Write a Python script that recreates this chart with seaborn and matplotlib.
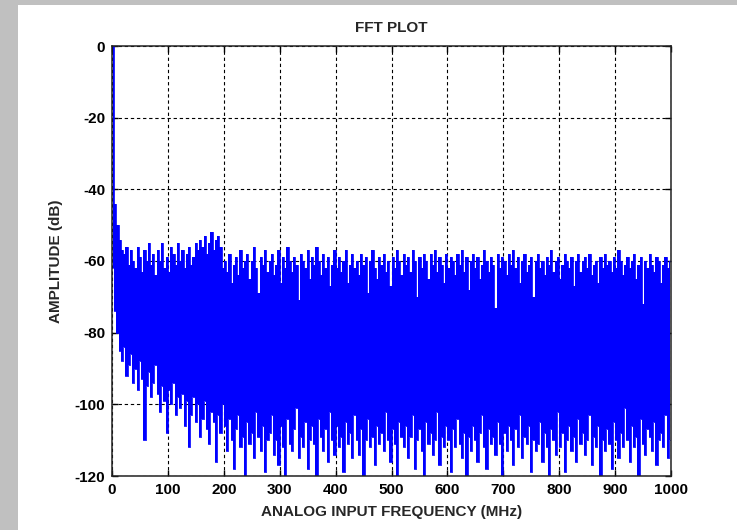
import numpy as np
import pandas as pd
import matplotlib
matplotlib.use("Agg")
import matplotlib.pyplot as plt
from matplotlib.patches import Rectangle
import seaborn as sns

# Spectrum summarised as per-bin peak (max) and floor (min) amplitude, 4 MHz bins
freq_mhz = np.arange(250) * 4 + 2

peak_db = [
    0, -44, -50, -54, -57, -58, -56, -61, -57, -60,
    -62, -56, -59, -63, -57, -60, -55, -61, -58, -64,
    -57, -60, -55, -62, -59, -63, -56, -58, -61, -55,
    -60, -57, -62, -58, -56, -61, -59, -55, -57, -54,
    -56, -53, -58, -55, -52, -57, -54, -53, -56, -62,
    -60, -63, -58, -66, -61, -59, -64, -57, -62, -60,
    -58, -65, -60, -56, -62, -69, -59, -61, -57, -63,
    -60, -58, -64, -61, -57, -66, -59, -62, -56, -60,
    -63, -59, -61, -71, -58, -60, -62, -57, -65, -59,
    -61, -56, -60, -64, -58, -62, -59, -67, -61, -57,
    -62, -59, -63, -60, -57, -66, -61, -58, -62, -60,
    -64, -58, -61, -59, -69, -60, -57, -62, -65, -59,
    -61, -58, -63, -60, -67, -59, -62, -57, -60, -64,
    -58, -61, -59, -63, -57, -60, -70, -59, -62, -58,
    -60, -65, -58, -61, -57, -63, -59, -61, -66, -58,
    -62, -59, -60, -64, -58, -61, -57, -63, -59, -68,
    -60, -58, -62, -59, -65, -61, -57, -60, -63, -59,
    -61, -73, -58, -62, -59, -60, -64, -58, -61, -57,
    -62, -59, -66, -60, -58, -63, -61, -59, -70, -60,
    -58, -62, -60, -64, -59, -61, -57, -63, -60, -59,
    -65, -61, -58, -60, -62, -59, -67, -60, -58, -63,
    -60, -59, -62, -58, -64, -61, -60, -66, -59, -62,
    -58, -61, -60, -63, -59, -62, -57, -60, -64, -61,
    -59, -62, -60, -58, -65, -61, -59, -72, -60, -62,
    -58, -61, -63, -59, -60, -66, -61, -59, -62, -60,
]

floor_db = [
    -62, -74, -80, -85, -88, -84, -92, -89, -86, -94,
    -90, -96, -88, -93, -110, -95, -91, -98, -94, -89,
    -97, -102, -95, -99, -108, -96, -100, -94, -103, -98,
    -101, -97, -106, -99, -112, -103, -98, -105, -100, -109,
    -104, -99, -107, -111, -102, -105, -116, -103, -108, -100,
    -106, -113, -104, -110, -118, -107, -103, -112, -109, -120,
    -105, -111, -108, -115, -102, -109, -113, -106, -119, -110,
    -108, -103, -114, -110, -117, -106, -112, -120, -104, -111,
    -113, -107, -101, -115, -109, -112, -105, -118, -110, -106,
    -111, -120, -104, -109, -113, -107, -116, -102, -110, -114,
    -106, -112, -109, -119, -105, -111, -108, -115, -103, -110,
    -114, -107, -120, -110, -104, -112, -109, -117, -106, -111,
    -108, -113, -102, -110, -116, -107, -111, -120, -105, -109,
    -112, -106, -115, -109, -103, -118, -110, -107, -113, -120,
    -105, -111, -108, -114, -110, -102, -117, -109, -112, -106,
    -110, -119, -107, -112, -104, -111, -115, -108, -120, -109,
    -113, -106, -110, -116, -108, -103, -112, -118, -107, -111,
    -109, -114, -105, -111, -120, -108, -113, -106, -110, -117,
    -107, -112, -103, -115, -109, -111, -106, -119, -110, -113,
    -111, -105, -116, -108, -112, -120, -107, -110, -114, -102,
    -112, -108, -119, -110, -106, -113, -109, -116, -104, -111,
    -108, -114, -110, -103, -117, -109, -112, -106, -120, -110,
    -113, -107, -111, -118, -105, -110, -115, -108, -112, -101,
    -110, -116, -106, -112, -109, -120, -104, -111, -114, -107,
    -109, -113, -105, -117, -110, -108, -112, -103, -115, -110,
]

x_ticks = list(range(0, 1001, 100))
y_ticks = list(range(-120, 1, 20))

spectrum = pd.DataFrame({"freq": freq_mhz, "peak": peak_db, "floor": floor_db})

sns.set_style("ticks")
plt.rcParams["font.family"] = ["Liberation Sans", "DejaVu Sans"]
plt.rcParams["font.weight"] = "bold"
plt.rcParams["axes.unicode_minus"] = False
plt.rcParams["path.simplify"] = False

fig = plt.figure(figsize=(7.37, 5.30), dpi=100)
fig.patch.set_facecolor("#c0c0c0")
fig.patches.append(Rectangle((18 / 737, 0), 1 - 18 / 737, 1 - 5 / 530,
                             transform=fig.transFigure, facecolor="white",
                             edgecolor="none", zorder=-10))

ax = fig.add_axes([112 / 737, 1 - 476 / 530, 559 / 737, 430 / 530])
ax.set_facecolor("white")

# Each 4 MHz column spans from its floor up to its peak
ax.fill_between(spectrum["freq"], spectrum["floor"], spectrum["peak"],
                step="mid", facecolor="#0000ff", edgecolor="none",
                linewidth=0, antialiased=False, zorder=3)
# Edge traces of the columns
sns.lineplot(data=spectrum, x="freq", y="peak", estimator=None,
             drawstyle="steps-mid", color="#0000ff", linewidth=0.6, ax=ax, zorder=4)
sns.lineplot(data=spectrum, x="freq", y="floor", estimator=None,
             drawstyle="steps-mid", color="#0000ff", linewidth=0.6, ax=ax, zorder=4)

ax.set_xlim(0, 1000)
ax.set_ylim(-120, 0)
ax.set_xticks(x_ticks)
ax.set_yticks(y_ticks)
ax.set_xticklabels([str(v) for v in x_ticks])
ax.set_yticklabels([str(v) for v in y_ticks])

ax.grid(True, color="black", linestyle=(0, (3, 2.5)), linewidth=0.8)
ax.set_axisbelow(True)
for s in ax.spines.values():
    s.set_color("#222222")
    s.set_linewidth(1.1)
    s.set_zorder(5)

ax.tick_params(direction="in", length=4, width=1, colors="black",
               top=True, right=True, labelsize=11, pad=5)
for lab in ax.get_xticklabels() + ax.get_yticklabels():
    lab.set_fontweight("bold")

ax.set_title("FFT PLOT", fontsize=11, fontweight="bold", pad=10)
ax.set_xlabel("ANALOG INPUT FREQUENCY (MHz)", fontsize=11, fontweight="bold", labelpad=6)
ax.set_ylabel("AMPLITUDE (dB)", fontsize=11, fontweight="bold", labelpad=8)

fig.savefig("out.png", dpi=100, facecolor=fig.get_facecolor())
